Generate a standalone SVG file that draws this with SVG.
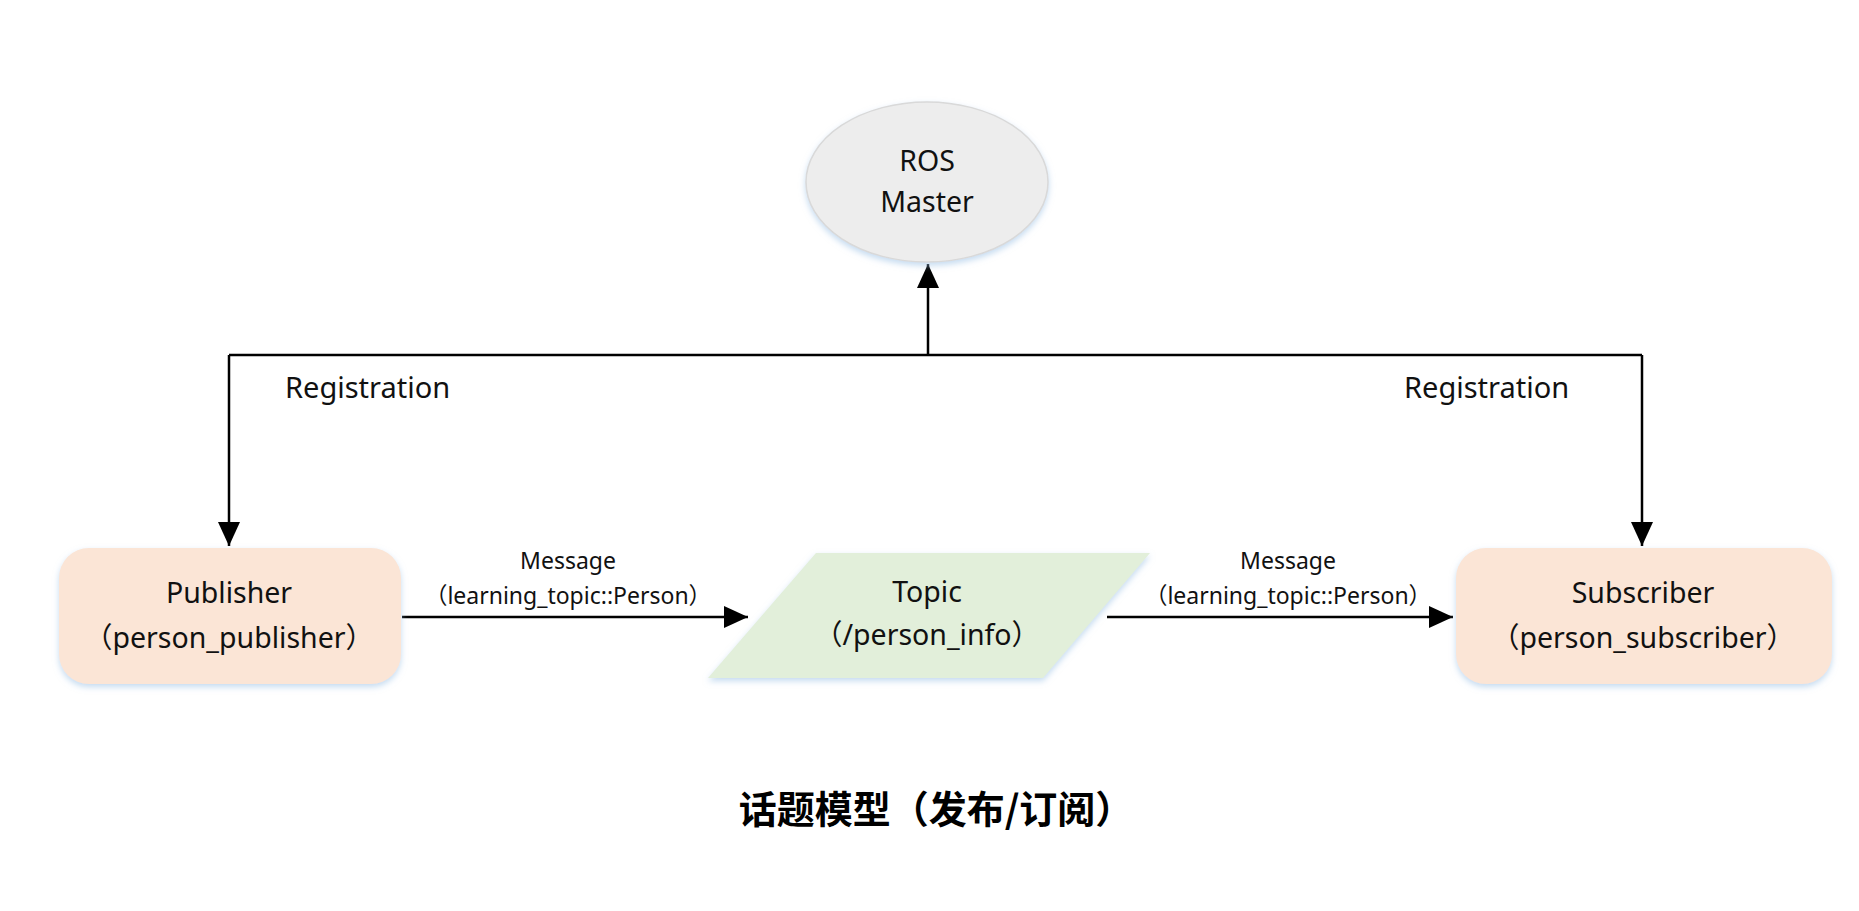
<svg xmlns="http://www.w3.org/2000/svg" width="1859" height="911" viewBox="0 0 1859 911">
<defs>
<filter id="glow" x="-10%" y="-10%" width="120%" height="130%">
<feDropShadow dx="0" dy="3" stdDeviation="3" flood-color="#9DC3E6" flood-opacity="0.6"/>
</filter>
<marker id="arr" markerUnits="userSpaceOnUse" markerWidth="26" markerHeight="22" refX="24" refY="11" orient="auto">
<path d="M0,0 L24,11 L0,22 z" fill="#000"/>
</marker>
</defs>
<style>
.node{font-family:"Noto Sans","Open Sans","Noto Sans CJK SC",sans-serif;font-size:28.5px;fill:#111;text-anchor:middle}
.lbl{font-family:"Noto Sans","Open Sans","Noto Sans CJK SC",sans-serif;font-size:23px;fill:#111;text-anchor:middle}
.reg{font-family:"Noto Sans","Open Sans",sans-serif;font-size:29px;fill:#111}
.title{font-family:"Noto Sans CJK SC","Noto Sans",sans-serif;font-size:38px;font-weight:bold;fill:#000;text-anchor:middle}
.conn{fill:none;stroke:#000;stroke-width:2.5}
</style>
<rect width="1859" height="911" fill="#fff"/>
<g id="connectors">
<path class="conn" d="M229,355 H1642"/>
<path class="conn" d="M928,355 V264" marker-end="url(#arr)"/>
<path class="conn" d="M229,355 V546" marker-end="url(#arr)"/>
<path class="conn" d="M1642,355 V546" marker-end="url(#arr)"/>
<path class="conn" d="M402,617 H748" marker-end="url(#arr)"/>
<path class="conn" d="M1107,617 H1453" marker-end="url(#arr)"/>
</g>
<g id="labels">
<text class="reg" x="285" y="398">Registration</text>
<text class="reg" x="1404" y="398">Registration</text>
<text class="lbl" x="568" y="569">Message</text>
<text class="lbl" x="568" y="604">（learning_topic::Person）</text>
<text class="lbl" x="1288" y="569">Message</text>
<text class="lbl" x="1288" y="604">（learning_topic::Person）</text>
</g>
<g id="ros-master">
<ellipse cx="927" cy="182" rx="121" ry="80" fill="#EDEDED" stroke="#D9D9D9" stroke-width="1.5" filter="url(#glow)"/>
<text class="node" x="927" y="171">ROS</text>
<text class="node" x="927" y="212">Master</text>
</g>
<g id="publisher">
<rect x="59" y="548" width="342" height="136" rx="30" fill="#FBE5D6" filter="url(#glow)"/>
<text class="node" x="229" y="603">Publisher</text>
<text class="node" x="229" y="648">（person_publisher）</text>
</g>
<g id="topic">
<polygon points="816,553 1150,553 1043,678 708,678" fill="#E2EFDA" filter="url(#glow)"/>
<text class="node" x="927" y="602">Topic</text>
<text class="node" x="927" y="645">（/person_info）</text>
</g>
<g id="subscriber">
<rect x="1456" y="548" width="376" height="136" rx="30" fill="#FBE5D6" filter="url(#glow)"/>
<text class="node" x="1643" y="603">Subscriber</text>
<text class="node" x="1643" y="648">（person_subscriber）</text>
</g>
<text class="title" x="936" y="823">话题模型（发布/订阅）</text>
</svg>
